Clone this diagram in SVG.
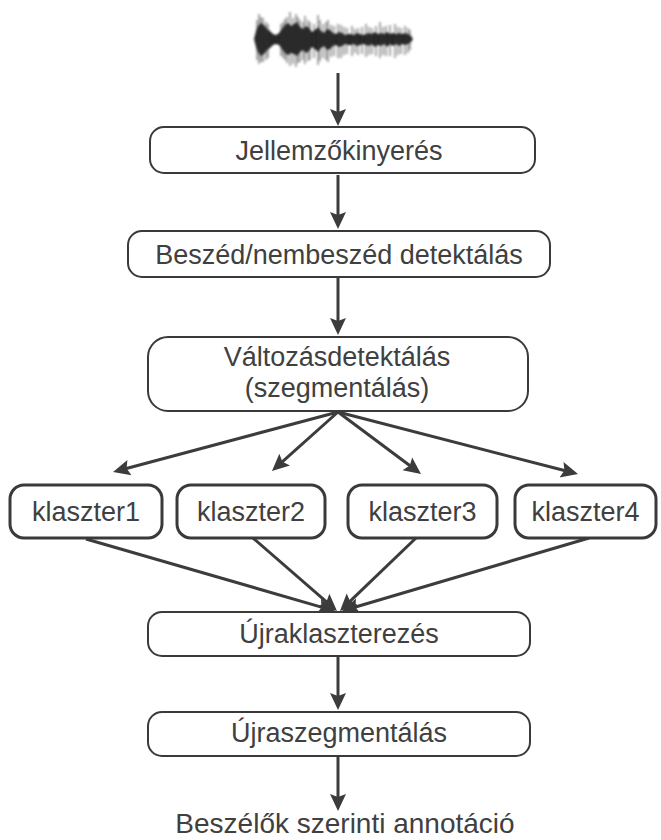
<svg xmlns="http://www.w3.org/2000/svg" width="661" height="840" viewBox="0 0 661 840">
<style>
.box{fill:#fff;stroke:#3a3a3a;stroke-width:2}
.kbox{fill:#fff;stroke:#3a3a3a;stroke-width:3}
.t{font-family:"Liberation Sans",Arial,sans-serif;font-size:27px;fill:#404040;text-anchor:middle}
.c{stroke:#3c3c3c;stroke-width:3;fill:none;marker-end:url(#ah)}
</style>
<defs>
<marker id="ah" markerUnits="userSpaceOnUse" markerWidth="18" markerHeight="18" viewBox="0 0 18 18" refX="10" refY="9" orient="auto">
<path d="M0,1 L17,9 L0,17 L3,9 Z" fill="#3c3c3c"/>
</marker>
<filter id="soft" x="-10%" y="-30%" width="120%" height="160%"><feGaussianBlur stdDeviation="0.8"/></filter>
</defs>
<g id="waveform" filter="url(#soft)">
<path fill="#262626" d="M254,39 L256,31 L258,26 L261,23 L264,25 L267,29 L270,31 L273,34 L276,35 L279,33 L282,29 L285,25 L288,23 L291,26 L294,24 L297,22 L300,27 L303,29 L306,26 L309,28 L312,32 L315,30 L318,27 L321,31 L324,33 L327,29 L330,30 L333,33 L336,34 L339,32 L342,33 L345,35 L348,34 L351,34 L354,35 L357,33 L360,34 L363,35 L366,34 L369,33 L372,34 L375,32 L378,34 L381,33 L384,34 L387,32 L390,34 L393,33 L396,34 L399,33 L402,34 L405,33 L408,34 L411,36 L413,39 L411,42 L408,44 L405,45 L402,44 L399,46 L396,44 L393,46 L390,44 L387,47 L384,44 L381,46 L378,45 L375,47 L372,44 L369,46 L366,45 L363,44 L360,45 L357,46 L354,44 L351,45 L348,45 L345,44 L342,46 L339,47 L336,45 L333,46 L330,49 L327,50 L324,46 L321,48 L318,52 L315,49 L312,47 L309,51 L306,53 L303,50 L300,52 L297,56 L294,54 L291,53 L288,55 L285,53 L282,49 L279,45 L276,44 L273,45 L270,48 L267,50 L264,54 L261,56 L258,52 L256,47 Z"/>
<g stroke="#333" stroke-width="1.4" opacity="0.6">
<path d="M257,20 V60 M259,14 V64 M261,17 V62 M263,18 V62 M266,22 V60 M268,24 V58 M281,24 V56 M283,22 V58 M285,19 V60 M287,17 V63 M290,12 V66 M293,18 V64 M296,14 V67 M298,17 V63 M300,20 V62 M303,22 V60 M305,16 V64 M308,20 V61 M310,22 V60 M314,24 V58 M318,15 V65 M320,20 V61 M323,24 V58 M326,22 V60 M328,20 V62 M331,25 V57 M334,26 V56 M338,24 V58 M341,25 V58 M344,27 V55 M347,28 V54 M352,26 V56 M355,29 V53 M358,28 V55 M362,27 V54 M366,24 V57 M369,27 V55 M372,28 V54 M376,26 V56 M380,22 V58 M383,27 V55 M386,26 V56 M390,25 V56 M395,24 V58 M398,27 V55 M401,28 V54 M405,26 V55 M408,28 V53 M410,30 V50"/>
</g>
</g>
<g id="connectors">
<line class="c" x1="338" y1="73" x2="338" y2="119"/>
<line class="c" x1="338" y1="175" x2="338" y2="222"/>
<line class="c" x1="338" y1="278" x2="338" y2="328"/>
<line class="c" x1="338" y1="412" x2="119.8" y2="470.2"/>
<line class="c" x1="338" y1="412" x2="277.2" y2="466.3"/>
<line class="c" x1="338" y1="412" x2="415.4" y2="469.8"/>
<line class="c" x1="338" y1="412" x2="571.2" y2="472.3"/>
<line class="c" x1="86" y1="539" x2="328.3" y2="609.1"/>
<line class="c" x1="253" y1="538" x2="331.7" y2="606.4"/>
<line class="c" x1="416" y1="538" x2="345" y2="606.1"/>
<line class="c" x1="589" y1="538" x2="348.7" y2="609"/>
<line class="c" x1="338" y1="657" x2="338" y2="703"/>
<line class="c" x1="338" y1="757" x2="338" y2="804"/>
</g>
<g id="jellemzokinyeres">
<rect class="box" x="150" y="127" width="385" height="46" rx="14"/>
<text class="t" x="339" y="160">Jellemzőkinyerés</text>
</g>
<g id="beszed">
<rect class="box" x="128" y="231" width="422" height="46" rx="14"/>
<text class="t" x="339" y="264">Beszéd/nembeszéd detektálás</text>
</g>
<g id="valtozas">
<rect class="box" x="148" y="337" width="380" height="74" rx="20"/>
<text class="t" x="337" y="366">Változásdetektálás</text>
<text class="t" x="337" y="397">(szegmentálás)</text>
</g>
<g id="klaszter1">
<rect class="kbox" x="10" y="485" width="152" height="53" rx="14"/>
<text class="t" x="86" y="521">klaszter1</text>
</g>
<g id="klaszter2">
<rect class="kbox" x="177" y="485" width="148" height="53" rx="14"/>
<text class="t" x="251" y="521">klaszter2</text>
</g>
<g id="klaszter3">
<rect class="kbox" x="348" y="485" width="149" height="53" rx="14"/>
<text class="t" x="422.5" y="521">klaszter3</text>
</g>
<g id="klaszter4">
<rect class="kbox" x="515" y="485" width="141" height="53" rx="14"/>
<text class="t" x="585.5" y="521">klaszter4</text>
</g>
<g id="ujraklaszterezes">
<rect class="box" x="148" y="612" width="382" height="44" rx="14"/>
<text class="t" x="339" y="643">Újraklaszterezés</text>
</g>
<g id="ujraszegmentalas">
<rect class="box" x="148" y="712" width="382" height="44" rx="14"/>
<text class="t" x="339" y="742">Újraszegmentálás</text>
</g>
<g id="annotacio">
<text class="t" x="345" y="833" style="font-size:28px">Beszélők szerinti annotáció</text>
</g>
</svg>
